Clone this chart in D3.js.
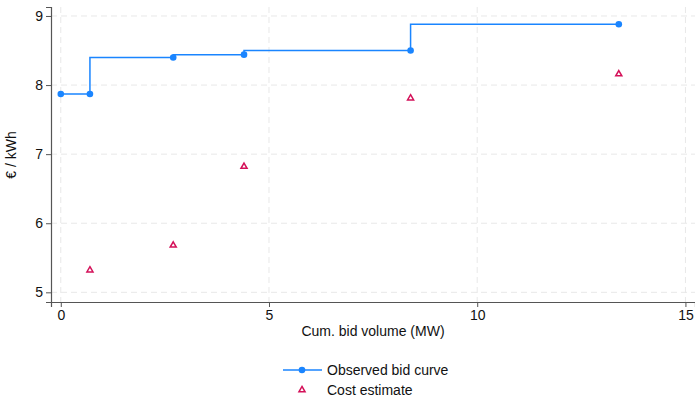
<!DOCTYPE html>
<html>
<head>
<meta charset="utf-8">
<script src="https://cdn.jsdelivr.net/npm/d3@7"></script>
<style>
  body { margin: 0; background: #fff; }
  svg { font-family: "Liberation Sans", Arial, Helvetica, sans-serif; }
</style>
</head>
<body>
<div id="output"></div>
<script>
// data
var bidVolume = [0, 0.7, 2.7, 4.4, 8.4, 13.4];
var bidPrice = [7.87, 7.87, 8.40, 8.44, 8.50, 8.88];
var costVolume = [0.7, 2.7, 4.4, 8.4, 13.4];
var costPrice = [5.32, 5.68, 6.82, 7.81, 8.16];
var xTicks = [0, 5, 10, 15];
var yTicks = [5, 6, 7, 8, 9];
var seriesNames = ['Observed bid curve', 'Cost estimate'];

var width = 695;
var height = 397;
var blue = '#1a85ff';
var red = '#d41159';

var svg = d3.select('#output')
  .append('svg')
  .attr('width', width)
  .attr('height', height);

var xScale = d3.scaleLinear()
  .domain([-0.235, 15.23])
  .range([51, 695]);

var yScale = d3.scaleLinear()
  .domain([4.86, 9.13])
  .range([302, 7]);

// grid
svg.append('g')
  .selectAll('line')
  .data(yTicks)
  .enter()
  .append('line')
  .attr('x1', 51).attr('x2', 695)
  .attr('y1', (d) => yScale(d)).attr('y2', (d) => yScale(d))
  .attr('stroke', '#e8e8e8')
  .attr('stroke-dasharray', '6,4');

svg.append('g')
  .selectAll('line')
  .data(xTicks)
  .enter()
  .append('line')
  .attr('y1', 7).attr('y2', 302)
  .attr('x1', (d) => xScale(d)).attr('x2', (d) => xScale(d))
  .attr('stroke', '#e8e8e8')
  .attr('stroke-dasharray', '6,4');

// axes
var xAxis = d3.axisBottom(xScale).tickValues(xTicks).tickFormat(d3.format('d')).tickSize(5).tickPadding(3);
var yAxis = d3.axisLeft(yScale).tickValues(yTicks).tickFormat(d3.format('d')).tickSize(5).tickPadding(3);

var gx = svg.append('g')
  .attr('transform', 'translate(0,302)')
  .call(xAxis);
var gy = svg.append('g')
  .attr('transform', 'translate(51,0)')
  .call(yAxis);

[gx, gy].forEach(function(g){
  g.select('.domain').attr('stroke', '#555').attr('stroke-width', 1.2);
  g.selectAll('.tick line').attr('stroke', '#555');
  g.selectAll('.tick text').attr('fill', '#111').style('font-size', '14px');
});

// axis titles
svg.append('text')
  .attr('x', 373).attr('y', 336)
  .attr('text-anchor', 'middle')
  .style('font-size', '14px')
  .attr('fill', '#111')
  .text('Cum. bid volume (MW)');

svg.append('text')
  .attr('transform', 'translate(16,155) rotate(-90)')
  .attr('text-anchor', 'middle')
  .style('font-size', '14px')
  .attr('fill', '#111')
  .text('€ / kWh');

// observed bid curve
var bids = bidVolume.map((v, i) => [v, bidPrice[i]]);
var line = d3.line()
  .x((d) => xScale(d[0]))
  .y((d) => yScale(d[1]))
  .curve(d3.curveStepBefore);

svg.append('path')
  .datum(bids)
  .attr('d', line)
  .attr('fill', 'none')
  .attr('stroke', blue)
  .attr('stroke-width', 1.5);

svg.append('g')
  .selectAll('circle')
  .data(bids)
  .enter()
  .append('circle')
  .attr('cx', (d) => xScale(d[0]))
  .attr('cy', (d) => yScale(d[1]))
  .attr('r', 3.3)
  .attr('fill', blue);

// cost estimate triangles
var tri = d3.symbol().type(d3.symbolTriangle).size(16);
svg.append('g')
  .selectAll('path')
  .data(costVolume)
  .enter()
  .append('path')
  .attr('d', tri)
  .attr('transform', (d, i) => `translate(${xScale(d)},${yScale(costPrice[i])})`)
  .attr('fill', 'none')
  .attr('stroke', red)
  .attr('stroke-width', 1.5);

// legend
var legend = svg.append('g');
legend.append('line')
  .attr('x1', 283).attr('x2', 322).attr('y1', 370).attr('y2', 370)
  .attr('stroke', blue).attr('stroke-width', 1.5);
legend.append('circle')
  .attr('cx', 302).attr('cy', 370).attr('r', 3.3).attr('fill', blue);
legend.append('path')
  .attr('d', tri)
  .attr('transform', 'translate(302,390)')
  .attr('fill', 'none').attr('stroke', red).attr('stroke-width', 1.5);

legend.selectAll('text')
  .data(seriesNames)
  .enter()
  .append('text')
  .attr('x', 327)
  .attr('y', (d, i) => 375 + i * 20)
  .style('font-size', '14px')
  .attr('fill', '#111')
  .text((d) => d);
</script>
</body>
</html>
